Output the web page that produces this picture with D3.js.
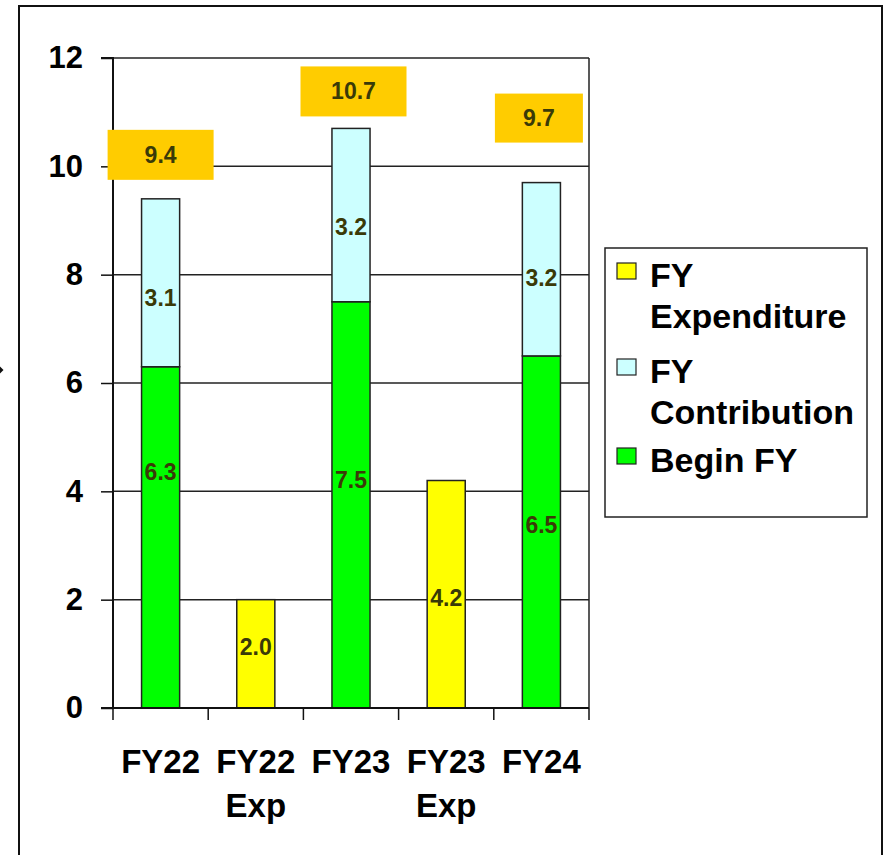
<!DOCTYPE html>
<html>
<head>
<meta charset="utf-8">
<script src="https://cdn.jsdelivr.net/npm/d3@7"></script>
<style>
  html, body { margin: 0; padding: 0; background: #fff; }
  svg { display: block; font-family: "Liberation Sans", Arial, sans-serif; font-weight: bold; }
</style>
</head>
<body>
<svg id="chart" width="890" height="855"></svg>
<script>
// Fund balance by fiscal year
const categories = ["FY22", "FY22 Exp", "FY23", "FY23 Exp", "FY24"];
const categoryLines = [["FY22"], ["FY22", "Exp"], ["FY23"], ["FY23", "Exp"], ["FY24"]];
const beginFY      = [6.3, 0, 7.5, 0, 6.5];
const contribution = [3.1, 0, 3.2, 0, 3.2];
const expenditure  = [0, 2.0, 0, 4.2, 0];
const totals       = [9.4, null, 10.7, null, 9.7];
const yTicks       = [0, 2, 4, 6, 8, 10, 12];

const seriesNames  = ["FY Expenditure", "FY Contribution", "Begin FY"];
const seriesColors = { "Begin FY": "#00ff00", "FY Contribution": "#ccffff", "FY Expenditure": "#ffff00" };

const svg = d3.select("#chart");
const plot = { left: 113, right: 589, top: 58, bottom: 708 };

const y = d3.scaleLinear().domain([0, 12]).range([plot.bottom, plot.top]);
const x = d3.scaleBand().domain(categories).range([plot.left, plot.right])
  .paddingInner(0.6).paddingOuter(0.3);
const xSlot = d3.scaleBand().domain(categories).range([plot.left, plot.right]).padding(0);

// outer frame
svg.append("rect").attr("x", 19).attr("y", 6).attr("width", 863).attr("height", 870)
  .attr("fill", "none").attr("stroke", "#111").attr("stroke-width", 2);
svg.append("path").attr("d", "M0,366.5L3.5,370L0,373.5Z").attr("fill", "#111");

// gridlines
svg.append("g").selectAll("line").data(yTicks.filter(t => t > 0)).join("line")
  .attr("x1", plot.left).attr("x2", plot.right)
  .attr("y1", d => y(d)).attr("y2", d => y(d))
  .attr("stroke", "#222").attr("stroke-width", 1.5);
svg.append("line").attr("x1", plot.right).attr("x2", plot.right)
  .attr("y1", plot.top).attr("y2", plot.bottom).attr("stroke", "#222").attr("stroke-width", 1.5);

// y axis
const yAxis = d3.axisLeft(y).tickValues(yTicks).tickSize(12).tickPadding(18).tickFormat(d3.format("d"));
const gy = svg.append("g").attr("transform", `translate(${plot.left},0)`).call(yAxis);
gy.select(".domain").attr("stroke", "#111").attr("stroke-width", 2).attr("d", `M-12,${plot.top}H0V${plot.bottom}`);
gy.selectAll(".tick line").attr("stroke", "#111").attr("stroke-width", 1.5);
gy.selectAll(".tick text").attr("font-size", 31).attr("font-weight", "bold")
  .attr("fill", "#000").attr("font-family", "Liberation Sans, Arial, sans-serif");

// stacked bars
const rows = categories.map((c, i) => ({ cat: c, "Begin FY": beginFY[i], "FY Contribution": contribution[i], "FY Expenditure": expenditure[i] }));
const stack = d3.stack().keys(["Begin FY", "FY Contribution", "FY Expenditure"])(rows);

// small per-label vertical nudges (px) for the in-bar values
const labelNudge = {
  "Begin FY": [-65, 0, -25, 0, -7],
  "FY Contribution": [15, 0, 12, 0, 9],
  "FY Expenditure": [0, -7, 0, 4, 0]
};

stack.forEach(layer => {
  const g = svg.append("g");
  const segs = layer.map((d, i) => ({ d, i, key: layer.key })).filter(s => s.d[1] - s.d[0] > 0);
  g.selectAll("rect").data(segs).join("rect")
    .attr("x", s => x(categories[s.i]))
    .attr("width", x.bandwidth())
    .attr("y", s => y(s.d[1]))
    .attr("height", s => y(s.d[0]) - y(s.d[1]))
    .attr("fill", seriesColors[layer.key])
    .attr("stroke", "#222").attr("stroke-width", 1.5);
  g.selectAll("text").data(segs).join("text")
    .attr("x", s => x(categories[s.i]) + x.bandwidth() / 2)
    .attr("y", s => (y(s.d[0]) + y(s.d[1])) / 2 + labelNudge[layer.key][s.i])
    .attr("text-anchor", "middle").attr("dominant-baseline", "central")
    .attr("font-size", 23).attr("fill", "#3a3a08")
    .text(s => d3.format(".1f")(s.d[1] - s.d[0]));
});

// x axis
svg.append("line").attr("x1", plot.left - 12).attr("x2", plot.right)
  .attr("y1", plot.bottom).attr("y2", plot.bottom).attr("stroke", "#111").attr("stroke-width", 2);
const tickXs = categories.map(c => xSlot(c)).concat([plot.right]);
svg.append("g").selectAll("line").data(tickXs).join("line")
  .attr("x1", d => d).attr("x2", d => d)
  .attr("y1", plot.bottom).attr("y2", plot.bottom + 12)
  .attr("stroke", "#111").attr("stroke-width", 1.5);
svg.append("g").selectAll("text").data(categories).join("text")
  .attr("x", c => x(c) + x.bandwidth() / 2)
  .attr("y", 773)
  .attr("text-anchor", "middle").attr("font-size", 33).attr("fill", "#000")
  .each(function (c, i) {
    d3.select(this).selectAll("tspan").data(categoryLines[i]).join("tspan")
      .attr("x", x(c) + x.bandwidth() / 2)
      .attr("dy", (t, j) => j === 0 ? 0 : 44)
      .text(t => t);
  });

// total callouts above stacked bars
const callout = [
  { dx: 0, lift: 19, w: 106, h: 50 }, null,
  { dx: 2.5, lift: 12, w: 106, h: 50 }, null,
  { dx: -2.5, lift: 40, w: 88, h: 49 }
];
const totalData = totals.map((t, i) => ({ t, i })).filter(d => d.t !== null);
const gt = svg.append("g");
gt.selectAll("rect").data(totalData).join("rect")
  .attr("x", d => x(categories[d.i]) + x.bandwidth() / 2 + callout[d.i].dx - callout[d.i].w / 2)
  .attr("y", d => y(d.t) - callout[d.i].lift - callout[d.i].h)
  .attr("width", d => callout[d.i].w).attr("height", d => callout[d.i].h)
  .attr("fill", "#ffcc00");
gt.selectAll("text").data(totalData).join("text")
  .attr("x", d => x(categories[d.i]) + x.bandwidth() / 2 + callout[d.i].dx)
  .attr("y", d => y(d.t) - callout[d.i].lift - callout[d.i].h / 2)
  .attr("text-anchor", "middle").attr("dominant-baseline", "central")
  .attr("font-size", 23).attr("fill", "#3a3a08")
  .text(d => d3.format(".1f")(d.t));

// legend
const lg = svg.append("g");
lg.append("rect").attr("x", 605).attr("y", 248).attr("width", 262).attr("height", 269)
  .attr("fill", "#fff").attr("stroke", "#222").attr("stroke-width", 1.5);
const legendItems = [
  { name: "FY Expenditure", lines: ["FY", "Expenditure"], top: 263 },
  { name: "FY Contribution", lines: ["FY", "Contribution"], top: 359 },
  { name: "Begin FY", lines: ["Begin FY"], top: 448 }
];
legendItems.forEach(it => {
  lg.append("rect").attr("x", 617).attr("y", it.top).attr("width", 19).attr("height", 16)
    .attr("fill", seriesColors[it.name]).attr("stroke", "#222").attr("stroke-width", 1.2);
  const t = lg.append("text").attr("x", 650).attr("y", it.top + 24)
    .attr("font-size", 34).attr("fill", "#000");
  t.selectAll("tspan").data(it.lines).join("tspan")
    .attr("x", 650).attr("dy", (d, j) => j === 0 ? 0 : 41).text(d => d);
});
</script>
</body>
</html>
